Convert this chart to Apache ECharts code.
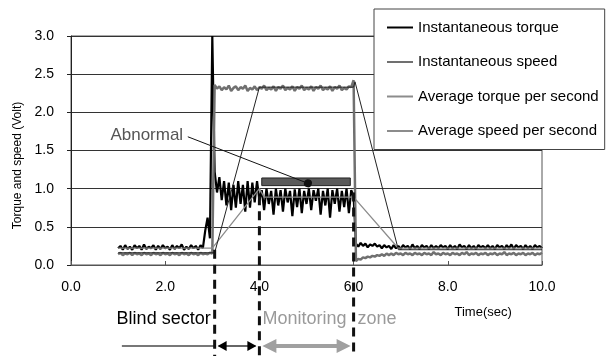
<!DOCTYPE html>
<html>
<head>
<meta charset="utf-8">
<script src="https://cdn.jsdelivr.net/npm/echarts@6/dist/echarts.min.js"></script>
<style>
  html, body { margin: 0; padding: 0; background: #fff; }
  #main { width: 613px; height: 356px; }
</style>
</head>
<body>
<div id="main"></div>
<script>
// sample spacing of the recorded signals (sec)
const STEP = 0.05;

// ==== instantaneous torque (Volt) ====
const torqueIdle = [ // from 1.00 s
	0.22,0.25,0.20,0.26,0.21,0.24,0.20,0.26,0.22,0.25,
	0.20,0.27,0.21,0.24,0.22,0.26,0.20,0.25,0.21,0.26,
	0.22,0.24,0.20,0.26,0.21,0.25,0.22,0.27,0.20,0.24,
	0.21,0.26,0.22,0.25,0.20,0.26,0.22
];
const torqueStart = [ // from 2.85 s
	0.45,0.62,0.35,3.00,1.22,0.95,1.15,0.85,1.10,0.78,
	1.08,0.72,1.05,0.75,1.10,0.80,1.05,0.70,1.10,0.75,
	1.08,0.82,1.10
];
const torqueRun = [ // from 4.00 s
	0.85,
	0.98,0.72,1.00,0.80,0.97,0.66,1.00,0.78,0.98,0.70,
	1.00,0.82,0.97,0.64,0.99,0.76,1.00,0.68,0.97,0.80,
	1.00,0.72,0.98,0.84,1.00,0.66,0.97,0.78,1.00,0.62,
	0.98,0.80,1.00,0.70,0.97,0.76,1.00,0.68,0.98,
	0.90
];
const torqueStop = [ // from 6.05 s
	0.28,0.24,0.29,0.25,0.28,0.23,0.27,0.25,0.28,0.24,
	0.26,0.22,0.26,0.23,0.25,0.21,0.26,0.22,0.25,0.21,
	0.26,0.23,0.25,0.21,0.27,0.22,0.25,0.21,0.26,0.23,
	0.25,0.21,0.26,0.22,0.25,0.22,0.26,0.23,0.25,0.21,
	0.26,0.22,0.25,0.21,0.27,0.23,0.25,0.21,0.26,0.22,
	0.25,0.21,0.26,0.23,0.25,0.22,0.26,0.22,0.25,0.21,
	0.26,0.23,0.25,0.21,0.26,0.22,0.27,0.21,0.26,0.23,
	0.25,0.21,0.26,0.22,0.25,0.21,0.26,0.23,0.25,0.22
];

// ==== instantaneous speed (Volt) ====
const speedIdle = [ // from 1.00 s
	0.14,0.16,0.13,0.15,0.14,0.16,0.13,0.16,0.14,0.15,
	0.13,0.16,0.14,0.15,0.13,0.16,0.14,0.15,0.13,0.16,
	0.14,0.15,0.13,0.16,0.14,0.15,0.13,0.16,0.14,0.15,
	0.13,0.16,0.14,0.15,0.13,0.16,0.14,0.15,0.14,0.16,
	0.15
];
const speedRun = [ // from 3.05 s
	2.36,2.31,2.34,2.29,2.33,2.30,2.35,2.28,2.32,2.34,
	2.29,2.33,2.31,2.35,2.28,2.32,2.30,2.34,2.29,2.33,
	2.31,2.35,2.29,2.32,2.30,2.34,2.28,2.33,2.31,2.35,
	2.29,2.32,2.30,2.34,2.28,2.33,2.31,2.35,2.29,2.32,
	2.30,2.34,2.28,2.33,2.31,2.35,2.29,2.32,2.30,2.34,
	2.28,2.33,2.31,2.35,2.29,2.32,2.30,2.34,2.33,2.42
];
const speedStop = [ // from 6.05 s
	0.05,0.08,0.07,0.10,0.09,0.11,0.10,0.12,0.11,0.13,
	0.12,0.14,0.12,0.15,0.13,0.15,0.13,0.16,0.14,0.15,
	0.13,0.16,0.14,0.15,0.13,0.16,0.14,0.15,0.13,0.16,
	0.14,0.15,0.13,0.17,0.14,0.15,0.13,0.16,0.14,0.15,
	0.13,0.16,0.14,0.15,0.13,0.16,0.14,0.17,0.13,0.15,
	0.14,0.16,0.13,0.15,0.14,0.16,0.13,0.15,0.14,0.16,
	0.13,0.15,0.14,0.17,0.13,0.15,0.14,0.16,0.13,0.15,
	0.14,0.16,0.13,0.15,0.14,0.16,0.13,0.15,0.14,0.16
];

// ==== per-second averages [time, Volt] ====
const avgTorque = [[1.0,0.22],[3.0,0.22],[4.0,1.0],[4.1,0.89],[6.0,0.89],[6.95,0.22],[10.0,0.22]];
const avgSpeed = [[1.0,0.16],[3.05,0.16],[4.0,2.33],[6.0,2.33],[6.03,2.4],[6.95,0.2],[10.0,0.2]];

// abnormal band + callout
const abnormalBand = [[4.05,1.04],[5.93,1.14]];
const abnormalFrom = [2.48,1.68];
const abnormalTo = [5.03,1.07];

// zone markers (sec)
const blindStart = 1.08;
const blindEnd = 3.05;
const monitorStart = 4.0;
const monitorEnd = 6.0;

const xTicks = [0, 2, 4, 6, 8, 10];

function seg(t0, vals) {
	return vals.map((v, i) => [+(t0 + i * STEP).toFixed(2), v]);
}

const torqueData = [].concat(
	seg(1.0, torqueIdle), seg(2.85, torqueStart), seg(4.0, torqueRun), seg(6.05, torqueStop)
);
const speedData = [].concat(seg(1.0, speedIdle), seg(3.05, speedRun), seg(6.05, speedStop));

const FONT = "'Liberation Sans', Arial, sans-serif";

var chartDom = document.getElementById("main");
var chart = echarts.init(chartDom, null, { renderer: "canvas" });

var option = {
	animation: false,
	textStyle: { fontFamily: FONT },
	grid: {
		left: 71, right: 71, top: 36, bottom: 91,
		show: true, borderColor: "#555", borderWidth: 1,
	},
	legend: {
		orient: "vertical",
		left: 374, top: 9,
		padding: [11, 6, 11, 12],
		itemGap: 19.5,
		itemWidth: 26, itemHeight: 14,
		borderColor: "#444", borderWidth: 1,
		backgroundColor: "#fff",
		// line only, no marker dot
		itemStyle: { color: "transparent", borderWidth: 0, opacity: 0 },
		textStyle: { fontSize: 15, color: "#000", fontFamily: FONT },
		data: [
			{ name: "Instantaneous torque" },
			{ name: "Instantaneous speed" },
			{ name: "Average torque per second" },
			{ name: "Average speed per second", lineStyle: { color: "#666", width: 1.5 } },
		],
	},
	xAxis: {
		type: "value",
		min: 0, max: 10, interval: 2,
		axisLine: { lineStyle: { color: "#555", width: 1 } },
		axisTick: { show: true, inside: true, length: 4, lineStyle: { color: "#555" } },
		axisLabel: {
			margin: 15, fontSize: 14, color: "#000", fontFamily: FONT,
			formatter: (v) => (xTicks.indexOf(v) >= 0 ? v.toFixed(1) : ""),
		},
		splitLine: { show: false },
	},
	yAxis: {
		type: "value",
		min: 0, max: 3, interval: 0.5,
		name: "Torque and speed (Volt)",
		nameLocation: "middle",
		nameGap: 46,
		nameTextStyle: { fontSize: 12, color: "#000", fontFamily: FONT, padding: [0, 30, 0, 0] },
		axisLine: { show: true, lineStyle: { color: "#222", width: 1 } },
		axisTick: { show: true, inside: false, length: 4, lineStyle: { color: "#222" } },
		axisLabel: {
			margin: 17, fontSize: 14, color: "#000", fontFamily: FONT,
			formatter: (v) => v.toFixed(1),
		},
		splitLine: { show: true, lineStyle: { color: "#333", width: 1 } },
	},
	series: [
		{
			name: "Instantaneous torque",
			type: "line",
			data: torqueData,
			showSymbol: false, symbol: "none",
			color: "#000",
			lineStyle: { color: "#000", width: 2.2 },
			z: 2,
		},
		{
			name: "Instantaneous speed",
			type: "line",
			data: speedData,
			showSymbol: false, symbol: "none",
			color: "#707070",
			lineStyle: { color: "#707070", width: 2.5 },
			z: 3,
		},
		{
			name: "Average torque per second",
			type: "line",
			data: avgTorque,
			showSymbol: false, symbol: "none",
			color: "#8c8c8c",
			lineStyle: { color: "#8c8c8c", width: 1.3 },
			z: 4,
			markArea: {
				silent: true,
				itemStyle: { color: "#5a5a5a", borderColor: "#222", borderWidth: 1 },
				data: [[{ coord: abnormalBand[0] }, { coord: abnormalBand[1] }]],
			},
		},
		{
			name: "Average speed per second",
			type: "line",
			data: avgSpeed,
			showSymbol: false, symbol: "none",
			color: "#222",
			lineStyle: { color: "#222", width: 1 },
			z: 5,
			markLine: {
				silent: true,
				symbol: ["none", "circle"],
				symbolSize: 8,
				lineStyle: { color: "#111", width: 1, type: "solid" },
				itemStyle: { color: "#111" },
				label: {
					show: true, position: "start", formatter: "Abnormal",
					fontSize: 17, color: "#555", fontFamily: FONT,
				},
				data: [[{ coord: abnormalFrom }, { coord: abnormalTo }]],
			},
		},
	],
};

chart.setOption(option);

// ==== zone annotations under the axis, placed through the axis scale ====
const px = (t, v) => chart.convertToPixel({ gridIndex: 0 }, [t, v]);
const base = px(0, 0)[1];
const H = 356;
const rowText = base + 54;
const rowArrow = base + 81;

const xBlind0 = px(blindStart, 0)[0];
const xBlind1 = px(blindEnd, 0)[0];
const xMon0 = px(monitorStart, 0)[0];
const xMon1 = px(monitorEnd, 0)[0];

function head(x, y, dir, len, half, color) {
	return {
		type: "polygon",
		shape: { points: [[x, y], [x + dir * len, y - half], [x + dir * len, y + half]] },
		style: { fill: color },
		z: 10,
	};
}

const graphics = [
	{
		type: "text",
		style: {
			x: px(8.75, 0)[0], y: base + 47, text: "Time(sec)",
			font: "13px " + FONT, fill: "#000", align: "center", verticalAlign: "middle",
		},
	},
	{
		type: "text",
		style: {
			x: xBlind1 - 4, y: rowText, text: "Blind sector",
			font: "18px " + FONT, fill: "#000", align: "right", verticalAlign: "middle",
		},
	},
	{
		type: "text",
		style: {
			x: xMon0 + 3, y: rowText, text: "Monitoring",
			font: "18px " + FONT, fill: "#9a9a9a", align: "left", verticalAlign: "middle",
		},
	},
	{
		type: "text",
		style: {
			x: xMon1 + 4, y: rowText, text: "zone",
			font: "18px " + FONT, fill: "#9a9a9a", align: "left", verticalAlign: "middle",
		},
	},
	// blind sector lead line
	{
		type: "line",
		shape: { x1: xBlind0, y1: rowArrow, x2: xBlind1, y2: rowArrow },
		style: { stroke: "#777", lineWidth: 2 },
		z: 10,
	},
	// black double arrow between blind end and monitoring start
	{
		type: "line",
		shape: { x1: xBlind1 + 4, y1: rowArrow, x2: xMon0 - 4, y2: rowArrow },
		style: { stroke: "#333", lineWidth: 1.5 },
		z: 10,
	},
	head(xBlind1 + 3, rowArrow, 1, 9, 5, "#000"),
	head(xMon0 - 3, rowArrow, -1, 9, 5, "#000"),
	// grey double arrow over the monitoring zone
	{
		type: "line",
		shape: { x1: xMon0 + 8, y1: rowArrow, x2: xMon1 - 8, y2: rowArrow },
		style: { stroke: "#a0a0a0", lineWidth: 4 },
		z: 10,
	},
	head(xMon0 + 3, rowArrow, 1, 14, 7, "#a0a0a0"),
	head(xMon1 - 3, rowArrow, -1, 14, 7, "#a0a0a0"),
];

// dashed markers: [time, value where the dash starts]
const markers = [[blindEnd, 0.2], [monitorStart, 0.9], [monitorEnd, 0.95]];
markers.forEach(([t, v]) => {
	const p = px(t, v);
	graphics.push({
		type: "line",
		shape: { x1: p[0], y1: p[1], x2: p[0], y2: H },
		style: { stroke: "#111", lineWidth: 3, lineDash: [9, 6] },
		z: 20,
	});
});

chart.setOption({ graphic: graphics });
</script>
</body>
</html>
